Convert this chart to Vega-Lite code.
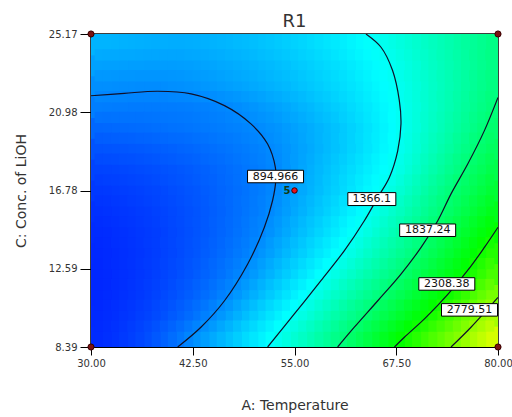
{
"$schema":"https://vega.github.io/schema/vega-lite/v6.json",
"width":407,"height":313,
"autosize":"none",
"padding":{"left":91,"top":34,"right":14,"bottom":70},
"title":{"text":"R1","fontSize":18,"font":"DejaVu Sans","fontWeight":"normal","color":"#333","offset":-2},
"config":{"view":{"stroke":"#000","strokeWidth":1.5},
"axis":{"labelFont":"DejaVu Sans","titleFont":"DejaVu Sans","labelColor":"#333","titleColor":"#333","domainColor":"#000","tickColor":"#000","grid":false,"labelFontSize":10,"titleFontSize":14,"titleFontWeight":"normal","labelOverlap":false,"labelFlush":false}},
"datasets":{
"grid":[
{"A":31,"C":8.95,"R":555},{"A":33,"C":8.95,"R":586},{"A":35,"C":8.95,"R":629},{"A":37,"C":8.95,"R":686},{"A":39,"C":8.95,"R":756},{"A":41,"C":8.95,"R":839},{"A":43,"C":8.95,"R":931},{"A":45,"C":8.95,"R":1020},{"A":47,"C":8.95,"R":1109},{"A":49,"C":8.95,"R":1198},{"A":51,"C":8.95,"R":1287},{"A":53,"C":8.95,"R":1380},{"A":55,"C":8.95,"R":1489},{"A":57,"C":8.95,"R":1598},{"A":59,"C":8.95,"R":1707},{"A":61,"C":8.95,"R":1816},{"A":63,"C":8.95,"R":1943},{"A":65,"C":8.95,"R":2073},{"A":67,"C":8.95,"R":2204},{"A":69,"C":8.95,"R":2335},{"A":71,"C":8.95,"R":2471},{"A":73,"C":8.95,"R":2607},{"A":75,"C":8.95,"R":2743},{"A":77,"C":8.95,"R":2887},{"A":79,"C":8.95,"R":3032},
{"A":31,"C":10.07,"R":548},{"A":33,"C":10.07,"R":572},{"A":35,"C":10.07,"R":604},{"A":37,"C":10.07,"R":646},{"A":39,"C":10.07,"R":697},{"A":41,"C":10.07,"R":757},{"A":43,"C":10.07,"R":825},{"A":45,"C":10.07,"R":905},{"A":47,"C":10.07,"R":999},{"A":49,"C":10.07,"R":1093},{"A":51,"C":10.07,"R":1187},{"A":53,"C":10.07,"R":1281},{"A":55,"C":10.07,"R":1377},{"A":57,"C":10.07,"R":1484},{"A":59,"C":10.07,"R":1591},{"A":61,"C":10.07,"R":1698},{"A":63,"C":10.07,"R":1805},{"A":65,"C":10.07,"R":1920},{"A":67,"C":10.07,"R":2038},{"A":69,"C":10.07,"R":2157},{"A":71,"C":10.07,"R":2275},{"A":73,"C":10.07,"R":2415},{"A":75,"C":10.07,"R":2562},{"A":77,"C":10.07,"R":2709},{"A":79,"C":10.07,"R":2854},
{"A":31,"C":11.19,"R":542},{"A":33,"C":11.19,"R":562},{"A":35,"C":11.19,"R":589},{"A":37,"C":11.19,"R":623},{"A":39,"C":11.19,"R":665},{"A":41,"C":11.19,"R":713},{"A":43,"C":11.19,"R":768},{"A":45,"C":11.19,"R":831},{"A":47,"C":11.19,"R":902},{"A":49,"C":11.19,"R":996},{"A":51,"C":11.19,"R":1090},{"A":53,"C":11.19,"R":1184},{"A":55,"C":11.19,"R":1278},{"A":57,"C":11.19,"R":1374},{"A":59,"C":11.19,"R":1478},{"A":61,"C":11.19,"R":1583},{"A":63,"C":11.19,"R":1688},{"A":65,"C":11.19,"R":1792},{"A":67,"C":11.19,"R":1902},{"A":69,"C":11.19,"R":2016},{"A":71,"C":11.19,"R":2130},{"A":73,"C":11.19,"R":2244},{"A":75,"C":11.19,"R":2377},{"A":77,"C":11.19,"R":2534},{"A":79,"C":11.19,"R":2691},
{"A":31,"C":12.3,"R":542},{"A":33,"C":12.3,"R":559},{"A":35,"C":12.3,"R":583},{"A":37,"C":12.3,"R":612},{"A":39,"C":12.3,"R":647},{"A":41,"C":12.3,"R":688},{"A":43,"C":12.3,"R":735},{"A":45,"C":12.3,"R":788},{"A":47,"C":12.3,"R":847},{"A":49,"C":12.3,"R":918},{"A":51,"C":12.3,"R":1008},{"A":53,"C":12.3,"R":1099},{"A":55,"C":12.3,"R":1189},{"A":57,"C":12.3,"R":1280},{"A":59,"C":12.3,"R":1372},{"A":61,"C":12.3,"R":1475},{"A":63,"C":12.3,"R":1577},{"A":65,"C":12.3,"R":1680},{"A":67,"C":12.3,"R":1782},{"A":69,"C":12.3,"R":1889},{"A":71,"C":12.3,"R":2002},{"A":73,"C":12.3,"R":2116},{"A":75,"C":12.3,"R":2229},{"A":77,"C":12.3,"R":2357},{"A":79,"C":12.3,"R":2519},
{"A":31,"C":13.42,"R":546},{"A":33,"C":13.42,"R":562},{"A":35,"C":13.42,"R":582},{"A":37,"C":13.42,"R":608},{"A":39,"C":13.42,"R":639},{"A":41,"C":13.42,"R":675},{"A":43,"C":13.42,"R":715},{"A":45,"C":13.42,"R":761},{"A":47,"C":13.42,"R":812},{"A":49,"C":13.42,"R":868},{"A":51,"C":13.42,"R":942},{"A":53,"C":13.42,"R":1028},{"A":55,"C":13.42,"R":1113},{"A":57,"C":13.42,"R":1198},{"A":59,"C":13.42,"R":1284},{"A":61,"C":13.42,"R":1371},{"A":63,"C":13.42,"R":1474},{"A":65,"C":13.42,"R":1578},{"A":67,"C":13.42,"R":1681},{"A":69,"C":13.42,"R":1784},{"A":71,"C":13.42,"R":1895},{"A":73,"C":13.42,"R":2013},{"A":75,"C":13.42,"R":2132},{"A":77,"C":13.42,"R":2250},{"A":79,"C":13.42,"R":2384},
{"A":31,"C":14.54,"R":555},{"A":33,"C":14.54,"R":570},{"A":35,"C":14.54,"R":588},{"A":37,"C":14.54,"R":611},{"A":39,"C":14.54,"R":638},{"A":41,"C":14.54,"R":670},{"A":43,"C":14.54,"R":706},{"A":45,"C":14.54,"R":746},{"A":47,"C":14.54,"R":791},{"A":49,"C":14.54,"R":840},{"A":51,"C":14.54,"R":894},{"A":53,"C":14.54,"R":974},{"A":55,"C":14.54,"R":1055},{"A":57,"C":14.54,"R":1137},{"A":59,"C":14.54,"R":1218},{"A":61,"C":14.54,"R":1299},{"A":63,"C":14.54,"R":1385},{"A":65,"C":14.54,"R":1489},{"A":67,"C":14.54,"R":1593},{"A":69,"C":14.54,"R":1697},{"A":71,"C":14.54,"R":1801},{"A":73,"C":14.54,"R":1915},{"A":75,"C":14.54,"R":2034},{"A":77,"C":14.54,"R":2154},{"A":79,"C":14.54,"R":2274},
{"A":31,"C":15.66,"R":575},{"A":33,"C":15.66,"R":588},{"A":35,"C":15.66,"R":604},{"A":37,"C":15.66,"R":624},{"A":39,"C":15.66,"R":648},{"A":41,"C":15.66,"R":676},{"A":43,"C":15.66,"R":707},{"A":45,"C":15.66,"R":743},{"A":47,"C":15.66,"R":782},{"A":49,"C":15.66,"R":825},{"A":51,"C":15.66,"R":871},{"A":53,"C":15.66,"R":935},{"A":55,"C":15.66,"R":1011},{"A":57,"C":15.66,"R":1088},{"A":59,"C":15.66,"R":1164},{"A":61,"C":15.66,"R":1241},{"A":63,"C":15.66,"R":1317},{"A":65,"C":15.66,"R":1406},{"A":67,"C":15.66,"R":1511},{"A":69,"C":15.66,"R":1617},{"A":71,"C":15.66,"R":1722},{"A":73,"C":15.66,"R":1828},{"A":75,"C":15.66,"R":1939},{"A":77,"C":15.66,"R":2051},{"A":79,"C":15.66,"R":2162},
{"A":31,"C":16.78,"R":604},{"A":33,"C":16.78,"R":615},{"A":35,"C":16.78,"R":630},{"A":37,"C":16.78,"R":647},{"A":39,"C":16.78,"R":668},{"A":41,"C":16.78,"R":692},{"A":43,"C":16.78,"R":719},{"A":45,"C":16.78,"R":750},{"A":47,"C":16.78,"R":784},{"A":49,"C":16.78,"R":821},{"A":51,"C":16.78,"R":861},{"A":53,"C":16.78,"R":911},{"A":55,"C":16.78,"R":982},{"A":57,"C":16.78,"R":1054},{"A":59,"C":16.78,"R":1125},{"A":61,"C":16.78,"R":1196},{"A":63,"C":16.78,"R":1268},{"A":65,"C":16.78,"R":1339},{"A":67,"C":16.78,"R":1435},{"A":69,"C":16.78,"R":1543},{"A":71,"C":16.78,"R":1651},{"A":73,"C":16.78,"R":1759},{"A":75,"C":16.78,"R":1865},{"A":77,"C":16.78,"R":1966},{"A":79,"C":16.78,"R":2067},
{"A":31,"C":17.9,"R":644},{"A":33,"C":17.9,"R":653},{"A":35,"C":17.9,"R":665},{"A":37,"C":17.9,"R":680},{"A":39,"C":17.9,"R":698},{"A":41,"C":17.9,"R":719},{"A":43,"C":17.9,"R":742},{"A":45,"C":17.9,"R":768},{"A":47,"C":17.9,"R":797},{"A":49,"C":17.9,"R":829},{"A":51,"C":17.9,"R":863},{"A":53,"C":17.9,"R":905},{"A":55,"C":17.9,"R":971},{"A":57,"C":17.9,"R":1037},{"A":59,"C":17.9,"R":1103},{"A":61,"C":17.9,"R":1169},{"A":63,"C":17.9,"R":1235},{"A":65,"C":17.9,"R":1301},{"A":67,"C":17.9,"R":1369},{"A":69,"C":17.9,"R":1474},{"A":71,"C":17.9,"R":1580},{"A":73,"C":17.9,"R":1685},{"A":75,"C":17.9,"R":1791},{"A":77,"C":17.9,"R":1890},{"A":79,"C":17.9,"R":1985},
{"A":31,"C":19.02,"R":703},{"A":33,"C":19.02,"R":711},{"A":35,"C":19.02,"R":720},{"A":37,"C":19.02,"R":732},{"A":39,"C":19.02,"R":747},{"A":41,"C":19.02,"R":763},{"A":43,"C":19.02,"R":782},{"A":45,"C":19.02,"R":804},{"A":47,"C":19.02,"R":827},{"A":49,"C":19.02,"R":853},{"A":51,"C":19.02,"R":881},{"A":53,"C":19.02,"R":919},{"A":55,"C":19.02,"R":968},{"A":57,"C":19.02,"R":1020},{"A":59,"C":19.02,"R":1077},{"A":61,"C":19.02,"R":1136},{"A":63,"C":19.02,"R":1200},{"A":65,"C":19.02,"R":1268},{"A":67,"C":19.02,"R":1339},{"A":69,"C":19.02,"R":1430},{"A":71,"C":19.02,"R":1529},{"A":73,"C":19.02,"R":1628},{"A":75,"C":19.02,"R":1727},{"A":77,"C":19.02,"R":1826},{"A":79,"C":19.02,"R":1914},
{"A":31,"C":20.14,"R":777},{"A":33,"C":20.14,"R":782},{"A":35,"C":20.14,"R":789},{"A":37,"C":20.14,"R":798},{"A":39,"C":20.14,"R":808},{"A":41,"C":20.14,"R":820},{"A":43,"C":20.14,"R":833},{"A":45,"C":20.14,"R":848},{"A":47,"C":20.14,"R":865},{"A":49,"C":20.14,"R":884},{"A":51,"C":20.14,"R":909},{"A":53,"C":20.14,"R":945},{"A":55,"C":20.14,"R":986},{"A":57,"C":20.14,"R":1031},{"A":59,"C":20.14,"R":1081},{"A":61,"C":20.14,"R":1136},{"A":63,"C":20.14,"R":1195},{"A":65,"C":20.14,"R":1259},{"A":67,"C":20.14,"R":1328},{"A":69,"C":20.14,"R":1410},{"A":71,"C":20.14,"R":1500},{"A":73,"C":20.14,"R":1590},{"A":75,"C":20.14,"R":1680},{"A":77,"C":20.14,"R":1771},{"A":79,"C":20.14,"R":1858},
{"A":31,"C":21.25,"R":858},{"A":33,"C":21.25,"R":853},{"A":35,"C":21.25,"R":850},{"A":37,"C":21.25,"R":849},{"A":39,"C":21.25,"R":851},{"A":41,"C":21.25,"R":856},{"A":43,"C":21.25,"R":865},{"A":45,"C":21.25,"R":878},{"A":47,"C":21.25,"R":899},{"A":49,"C":21.25,"R":928},{"A":51,"C":21.25,"R":960},{"A":53,"C":21.25,"R":995},{"A":55,"C":21.25,"R":1034},{"A":57,"C":21.25,"R":1076},{"A":59,"C":21.25,"R":1122},{"A":61,"C":21.25,"R":1171},{"A":63,"C":21.25,"R":1223},{"A":65,"C":21.25,"R":1278},{"A":67,"C":21.25,"R":1337},{"A":69,"C":21.25,"R":1410},{"A":71,"C":21.25,"R":1491},{"A":73,"C":21.25,"R":1572},{"A":75,"C":21.25,"R":1653},{"A":77,"C":21.25,"R":1734},{"A":79,"C":21.25,"R":1816},
{"A":31,"C":22.37,"R":923},{"A":33,"C":22.37,"R":918},{"A":35,"C":22.37,"R":914},{"A":37,"C":22.37,"R":911},{"A":39,"C":22.37,"R":914},{"A":41,"C":22.37,"R":926},{"A":43,"C":22.37,"R":941},{"A":45,"C":22.37,"R":959},{"A":47,"C":22.37,"R":980},{"A":49,"C":22.37,"R":1003},{"A":51,"C":22.37,"R":1030},{"A":53,"C":22.37,"R":1060},{"A":55,"C":22.37,"R":1093},{"A":57,"C":22.37,"R":1129},{"A":59,"C":22.37,"R":1168},{"A":61,"C":22.37,"R":1210},{"A":63,"C":22.37,"R":1255},{"A":65,"C":22.37,"R":1303},{"A":67,"C":22.37,"R":1353},{"A":69,"C":22.37,"R":1422},{"A":71,"C":22.37,"R":1494},{"A":73,"C":22.37,"R":1567},{"A":75,"C":22.37,"R":1640},{"A":77,"C":22.37,"R":1713},{"A":79,"C":22.37,"R":1786},
{"A":31,"C":23.49,"R":988},{"A":33,"C":23.49,"R":983},{"A":35,"C":23.49,"R":978},{"A":37,"C":23.49,"R":974},{"A":39,"C":23.49,"R":971},{"A":41,"C":23.49,"R":975},{"A":43,"C":23.49,"R":987},{"A":45,"C":23.49,"R":1002},{"A":47,"C":23.49,"R":1020},{"A":49,"C":23.49,"R":1041},{"A":51,"C":23.49,"R":1066},{"A":53,"C":23.49,"R":1093},{"A":55,"C":23.49,"R":1124},{"A":57,"C":23.49,"R":1158},{"A":59,"C":23.49,"R":1195},{"A":61,"C":23.49,"R":1234},{"A":63,"C":23.49,"R":1278},{"A":65,"C":23.49,"R":1324},{"A":67,"C":23.49,"R":1375},{"A":69,"C":23.49,"R":1441},{"A":71,"C":23.49,"R":1507},{"A":73,"C":23.49,"R":1573},{"A":75,"C":23.49,"R":1639},{"A":77,"C":23.49,"R":1705},{"A":79,"C":23.49,"R":1771},
{"A":31,"C":24.61,"R":1058},{"A":33,"C":24.61,"R":1052},{"A":35,"C":24.61,"R":1045},{"A":37,"C":24.61,"R":1039},{"A":39,"C":24.61,"R":1034},{"A":41,"C":24.61,"R":1030},{"A":43,"C":24.61,"R":1039},{"A":45,"C":24.61,"R":1052},{"A":47,"C":24.61,"R":1068},{"A":49,"C":24.61,"R":1087},{"A":51,"C":24.61,"R":1110},{"A":53,"C":24.61,"R":1136},{"A":55,"C":24.61,"R":1165},{"A":57,"C":24.61,"R":1198},{"A":59,"C":24.61,"R":1234},{"A":61,"C":24.61,"R":1273},{"A":63,"C":24.61,"R":1315},{"A":65,"C":24.61,"R":1361},{"A":67,"C":24.61,"R":1418},{"A":69,"C":24.61,"R":1477},{"A":71,"C":24.61,"R":1535},{"A":73,"C":24.61,"R":1594},{"A":75,"C":24.61,"R":1653},{"A":77,"C":24.61,"R":1711},{"A":79,"C":24.61,"R":1770}
],
"mid":[
{"A":32,"C":8.95,"R":570},{"A":34,"C":8.95,"R":607},{"A":36,"C":8.95,"R":657},{"A":38,"C":8.95,"R":721},{"A":40,"C":8.95,"R":797},{"A":42,"C":8.95,"R":885},{"A":44,"C":8.95,"R":975},{"A":46,"C":8.95,"R":1064},{"A":48,"C":8.95,"R":1153},{"A":50,"C":8.95,"R":1242},{"A":52,"C":8.95,"R":1333},{"A":54,"C":8.95,"R":1434},{"A":56,"C":8.95,"R":1543},{"A":58,"C":8.95,"R":1652},{"A":60,"C":8.95,"R":1761},{"A":62,"C":8.95,"R":1879},{"A":64,"C":8.95,"R":2008},{"A":66,"C":8.95,"R":2138},{"A":68,"C":8.95,"R":2269},{"A":70,"C":8.95,"R":2403},{"A":72,"C":8.95,"R":2539},{"A":74,"C":8.95,"R":2675},{"A":76,"C":8.95,"R":2815},{"A":78,"C":8.95,"R":2959},
{"A":32,"C":10.07,"R":560},{"A":34,"C":10.07,"R":588},{"A":36,"C":10.07,"R":625},{"A":38,"C":10.07,"R":671},{"A":40,"C":10.07,"R":727},{"A":42,"C":10.07,"R":791},{"A":44,"C":10.07,"R":865},{"A":46,"C":10.07,"R":952},{"A":48,"C":10.07,"R":1046},{"A":50,"C":10.07,"R":1140},{"A":52,"C":10.07,"R":1234},{"A":54,"C":10.07,"R":1329},{"A":56,"C":10.07,"R":1430},{"A":58,"C":10.07,"R":1537},{"A":60,"C":10.07,"R":1644},{"A":62,"C":10.07,"R":1751},{"A":64,"C":10.07,"R":1862},{"A":66,"C":10.07,"R":1979},{"A":68,"C":10.07,"R":2097},{"A":70,"C":10.07,"R":2216},{"A":72,"C":10.07,"R":2345},{"A":74,"C":10.07,"R":2488},{"A":76,"C":10.07,"R":2635},{"A":78,"C":10.07,"R":2781},
{"A":32,"C":11.19,"R":552},{"A":34,"C":11.19,"R":575},{"A":36,"C":11.19,"R":606},{"A":38,"C":11.19,"R":644},{"A":40,"C":11.19,"R":689},{"A":42,"C":11.19,"R":740},{"A":44,"C":11.19,"R":799},{"A":46,"C":11.19,"R":866},{"A":48,"C":11.19,"R":949},{"A":50,"C":11.19,"R":1043},{"A":52,"C":11.19,"R":1137},{"A":54,"C":11.19,"R":1231},{"A":56,"C":11.19,"R":1326},{"A":58,"C":11.19,"R":1426},{"A":60,"C":11.19,"R":1530},{"A":62,"C":11.19,"R":1635},{"A":64,"C":11.19,"R":1740},{"A":66,"C":11.19,"R":1847},{"A":68,"C":11.19,"R":1959},{"A":70,"C":11.19,"R":2073},{"A":72,"C":11.19,"R":2187},{"A":74,"C":11.19,"R":2310},{"A":76,"C":11.19,"R":2455},{"A":78,"C":11.19,"R":2612},
{"A":32,"C":12.3,"R":550},{"A":34,"C":12.3,"R":571},{"A":36,"C":12.3,"R":597},{"A":38,"C":12.3,"R":629},{"A":40,"C":12.3,"R":667},{"A":42,"C":12.3,"R":711},{"A":44,"C":12.3,"R":761},{"A":46,"C":12.3,"R":817},{"A":48,"C":12.3,"R":882},{"A":50,"C":12.3,"R":963},{"A":52,"C":12.3,"R":1053},{"A":54,"C":12.3,"R":1144},{"A":56,"C":12.3,"R":1234},{"A":58,"C":12.3,"R":1326},{"A":60,"C":12.3,"R":1423},{"A":62,"C":12.3,"R":1526},{"A":64,"C":12.3,"R":1628},{"A":66,"C":12.3,"R":1731},{"A":68,"C":12.3,"R":1835},{"A":70,"C":12.3,"R":1945},{"A":72,"C":12.3,"R":2059},{"A":74,"C":12.3,"R":2172},{"A":76,"C":12.3,"R":2293},{"A":78,"C":12.3,"R":2438},
{"A":32,"C":13.42,"R":554},{"A":34,"C":13.42,"R":572},{"A":36,"C":13.42,"R":595},{"A":38,"C":13.42,"R":623},{"A":40,"C":13.42,"R":657},{"A":42,"C":13.42,"R":695},{"A":44,"C":13.42,"R":738},{"A":46,"C":13.42,"R":786},{"A":48,"C":13.42,"R":840},{"A":50,"C":13.42,"R":905},{"A":52,"C":13.42,"R":985},{"A":54,"C":13.42,"R":1070},{"A":56,"C":13.42,"R":1155},{"A":58,"C":13.42,"R":1241},{"A":60,"C":13.42,"R":1327},{"A":62,"C":13.42,"R":1422},{"A":64,"C":13.42,"R":1526},{"A":66,"C":13.42,"R":1629},{"A":68,"C":13.42,"R":1732},{"A":70,"C":13.42,"R":1839},{"A":72,"C":13.42,"R":1954},{"A":74,"C":13.42,"R":2072},{"A":76,"C":13.42,"R":2191},{"A":78,"C":13.42,"R":2317},
{"A":32,"C":14.54,"R":562},{"A":34,"C":14.54,"R":579},{"A":36,"C":14.54,"R":599},{"A":38,"C":14.54,"R":624},{"A":40,"C":14.54,"R":654},{"A":42,"C":14.54,"R":688},{"A":44,"C":14.54,"R":726},{"A":46,"C":14.54,"R":768},{"A":48,"C":14.54,"R":815},{"A":50,"C":14.54,"R":867},{"A":52,"C":14.54,"R":934},{"A":54,"C":14.54,"R":1014},{"A":56,"C":14.54,"R":1096},{"A":58,"C":14.54,"R":1177},{"A":60,"C":14.54,"R":1258},{"A":62,"C":14.54,"R":1342},{"A":64,"C":14.54,"R":1437},{"A":66,"C":14.54,"R":1541},{"A":68,"C":14.54,"R":1645},{"A":70,"C":14.54,"R":1749},{"A":72,"C":14.54,"R":1858},{"A":74,"C":14.54,"R":1974},{"A":76,"C":14.54,"R":2094},{"A":78,"C":14.54,"R":2214},
{"A":32,"C":15.66,"R":581},{"A":34,"C":15.66,"R":596},{"A":36,"C":15.66,"R":614},{"A":38,"C":15.66,"R":636},{"A":40,"C":15.66,"R":662},{"A":42,"C":15.66,"R":691},{"A":44,"C":15.66,"R":725},{"A":46,"C":15.66,"R":762},{"A":48,"C":15.66,"R":803},{"A":50,"C":15.66,"R":848},{"A":52,"C":15.66,"R":903},{"A":54,"C":15.66,"R":973},{"A":56,"C":15.66,"R":1049},{"A":58,"C":15.66,"R":1126},{"A":60,"C":15.66,"R":1202},{"A":62,"C":15.66,"R":1279},{"A":64,"C":15.66,"R":1361},{"A":66,"C":15.66,"R":1458},{"A":68,"C":15.66,"R":1564},{"A":70,"C":15.66,"R":1669},{"A":72,"C":15.66,"R":1775},{"A":74,"C":15.66,"R":1883},{"A":76,"C":15.66,"R":1995},{"A":78,"C":15.66,"R":2106},
{"A":32,"C":16.78,"R":609},{"A":34,"C":16.78,"R":622},{"A":36,"C":16.78,"R":638},{"A":38,"C":16.78,"R":657},{"A":40,"C":16.78,"R":680},{"A":42,"C":16.78,"R":705},{"A":44,"C":16.78,"R":734},{"A":46,"C":16.78,"R":767},{"A":48,"C":16.78,"R":802},{"A":50,"C":16.78,"R":841},{"A":52,"C":16.78,"R":886},{"A":54,"C":16.78,"R":946},{"A":56,"C":16.78,"R":1018},{"A":58,"C":16.78,"R":1089},{"A":60,"C":16.78,"R":1160},{"A":62,"C":16.78,"R":1232},{"A":64,"C":16.78,"R":1303},{"A":66,"C":16.78,"R":1387},{"A":68,"C":16.78,"R":1489},{"A":70,"C":16.78,"R":1597},{"A":72,"C":16.78,"R":1705},{"A":74,"C":16.78,"R":1812},{"A":76,"C":16.78,"R":1915},{"A":78,"C":16.78,"R":2016},
{"A":32,"C":17.9,"R":648},{"A":34,"C":17.9,"R":659},{"A":36,"C":17.9,"R":672},{"A":38,"C":17.9,"R":689},{"A":40,"C":17.9,"R":708},{"A":42,"C":17.9,"R":730},{"A":44,"C":17.9,"R":755},{"A":46,"C":17.9,"R":782},{"A":48,"C":17.9,"R":813},{"A":50,"C":17.9,"R":846},{"A":52,"C":17.9,"R":884},{"A":54,"C":17.9,"R":938},{"A":56,"C":17.9,"R":1004},{"A":58,"C":17.9,"R":1070},{"A":60,"C":17.9,"R":1136},{"A":62,"C":17.9,"R":1202},{"A":64,"C":17.9,"R":1268},{"A":66,"C":17.9,"R":1335},{"A":68,"C":17.9,"R":1421},{"A":70,"C":17.9,"R":1527},{"A":72,"C":17.9,"R":1632},{"A":74,"C":17.9,"R":1738},{"A":76,"C":17.9,"R":1840},{"A":78,"C":17.9,"R":1937},
{"A":32,"C":19.02,"R":707},{"A":34,"C":19.02,"R":715},{"A":36,"C":19.02,"R":726},{"A":38,"C":19.02,"R":739},{"A":40,"C":19.02,"R":755},{"A":42,"C":19.02,"R":772},{"A":44,"C":19.02,"R":793},{"A":46,"C":19.02,"R":815},{"A":48,"C":19.02,"R":840},{"A":50,"C":19.02,"R":867},{"A":52,"C":19.02,"R":900},{"A":54,"C":19.02,"R":943},{"A":56,"C":19.02,"R":994},{"A":58,"C":19.02,"R":1048},{"A":60,"C":19.02,"R":1106},{"A":62,"C":19.02,"R":1168},{"A":64,"C":19.02,"R":1234},{"A":66,"C":19.02,"R":1303},{"A":68,"C":19.02,"R":1384},{"A":70,"C":19.02,"R":1479},{"A":72,"C":19.02,"R":1578},{"A":74,"C":19.02,"R":1677},{"A":76,"C":19.02,"R":1776},{"A":78,"C":19.02,"R":1870},
{"A":32,"C":20.14,"R":779},{"A":34,"C":20.14,"R":785},{"A":36,"C":20.14,"R":793},{"A":38,"C":20.14,"R":803},{"A":40,"C":20.14,"R":814},{"A":42,"C":20.14,"R":826},{"A":44,"C":20.14,"R":840},{"A":46,"C":20.14,"R":856},{"A":48,"C":20.14,"R":874},{"A":50,"C":20.14,"R":896},{"A":52,"C":20.14,"R":927},{"A":54,"C":20.14,"R":965},{"A":56,"C":20.14,"R":1008},{"A":58,"C":20.14,"R":1056},{"A":60,"C":20.14,"R":1108},{"A":62,"C":20.14,"R":1165},{"A":64,"C":20.14,"R":1227},{"A":66,"C":20.14,"R":1293},{"A":68,"C":20.14,"R":1369},{"A":70,"C":20.14,"R":1455},{"A":72,"C":20.14,"R":1545},{"A":74,"C":20.14,"R":1635},{"A":76,"C":20.14,"R":1725},{"A":78,"C":20.14,"R":1814},
{"A":32,"C":21.25,"R":855},{"A":34,"C":21.25,"R":851},{"A":36,"C":21.25,"R":849},{"A":38,"C":21.25,"R":850},{"A":40,"C":21.25,"R":853},{"A":42,"C":21.25,"R":860},{"A":44,"C":21.25,"R":871},{"A":46,"C":21.25,"R":888},{"A":48,"C":21.25,"R":913},{"A":50,"C":21.25,"R":944},{"A":52,"C":21.25,"R":977},{"A":54,"C":21.25,"R":1014},{"A":56,"C":21.25,"R":1055},{"A":58,"C":21.25,"R":1099},{"A":60,"C":21.25,"R":1146},{"A":62,"C":21.25,"R":1197},{"A":64,"C":21.25,"R":1250},{"A":66,"C":21.25,"R":1307},{"A":68,"C":21.25,"R":1373},{"A":70,"C":21.25,"R":1450},{"A":72,"C":21.25,"R":1531},{"A":74,"C":21.25,"R":1612},{"A":76,"C":21.25,"R":1693},{"A":78,"C":21.25,"R":1775},
{"A":32,"C":22.37,"R":920},{"A":34,"C":22.37,"R":916},{"A":36,"C":22.37,"R":912},{"A":38,"C":22.37,"R":912},{"A":40,"C":22.37,"R":920},{"A":42,"C":22.37,"R":933},{"A":44,"C":22.37,"R":950},{"A":46,"C":22.37,"R":969},{"A":48,"C":22.37,"R":991},{"A":50,"C":22.37,"R":1016},{"A":52,"C":22.37,"R":1045},{"A":54,"C":22.37,"R":1076},{"A":56,"C":22.37,"R":1111},{"A":58,"C":22.37,"R":1148},{"A":60,"C":22.37,"R":1189},{"A":62,"C":22.37,"R":1232},{"A":64,"C":22.37,"R":1279},{"A":66,"C":22.37,"R":1328},{"A":68,"C":22.37,"R":1387},{"A":70,"C":22.37,"R":1458},{"A":72,"C":22.37,"R":1530},{"A":74,"C":22.37,"R":1603},{"A":76,"C":22.37,"R":1676},{"A":78,"C":22.37,"R":1749},
{"A":32,"C":23.49,"R":985},{"A":34,"C":23.49,"R":980},{"A":36,"C":23.49,"R":976},{"A":38,"C":23.49,"R":972},{"A":40,"C":23.49,"R":973},{"A":42,"C":23.49,"R":981},{"A":44,"C":23.49,"R":994},{"A":46,"C":23.49,"R":1011},{"A":48,"C":23.49,"R":1030},{"A":50,"C":23.49,"R":1053},{"A":52,"C":23.49,"R":1079},{"A":54,"C":23.49,"R":1108},{"A":56,"C":23.49,"R":1141},{"A":58,"C":23.49,"R":1176},{"A":60,"C":23.49,"R":1214},{"A":62,"C":23.49,"R":1256},{"A":64,"C":23.49,"R":1301},{"A":66,"C":23.49,"R":1349},{"A":68,"C":23.49,"R":1408},{"A":70,"C":23.49,"R":1474},{"A":72,"C":23.49,"R":1540},{"A":74,"C":23.49,"R":1606},{"A":76,"C":23.49,"R":1672},{"A":78,"C":23.49,"R":1738},
{"A":32,"C":24.61,"R":1055},{"A":34,"C":24.61,"R":1048},{"A":36,"C":24.61,"R":1042},{"A":38,"C":24.61,"R":1036},{"A":40,"C":24.61,"R":1032},{"A":42,"C":24.61,"R":1034},{"A":44,"C":24.61,"R":1045},{"A":46,"C":24.61,"R":1060},{"A":48,"C":24.61,"R":1077},{"A":50,"C":24.61,"R":1098},{"A":52,"C":24.61,"R":1123},{"A":54,"C":24.61,"R":1150},{"A":56,"C":24.61,"R":1181},{"A":58,"C":24.61,"R":1216},{"A":60,"C":24.61,"R":1253},{"A":62,"C":24.61,"R":1294},{"A":64,"C":24.61,"R":1338},{"A":66,"C":24.61,"R":1389},{"A":68,"C":24.61,"R":1447},{"A":70,"C":24.61,"R":1506},{"A":72,"C":24.61,"R":1564},{"A":74,"C":24.61,"R":1623},{"A":76,"C":24.61,"R":1682},{"A":78,"C":24.61,"R":1740}
],
"midr":[
{"A":31,"C":9.51,"R":552},{"A":32,"C":9.51,"R":565},{"A":33,"C":9.51,"R":579},{"A":34,"C":9.51,"R":598},{"A":35,"C":9.51,"R":617},{"A":36,"C":9.51,"R":641},{"A":37,"C":9.51,"R":666},{"A":38,"C":9.51,"R":696},{"A":39,"C":9.51,"R":727},{"A":40,"C":9.51,"R":762},{"A":41,"C":9.51,"R":798},{"A":42,"C":9.51,"R":838},{"A":43,"C":9.51,"R":878},{"A":44,"C":9.51,"R":920},{"A":45,"C":9.51,"R":963},{"A":46,"C":9.51,"R":1008},{"A":47,"C":9.51,"R":1054},{"A":48,"C":9.51,"R":1100},{"A":49,"C":9.51,"R":1146},{"A":50,"C":9.51,"R":1191},{"A":51,"C":9.51,"R":1237},{"A":52,"C":9.51,"R":1284},{"A":53,"C":9.51,"R":1331},{"A":54,"C":9.51,"R":1382},{"A":55,"C":9.51,"R":1433},{"A":56,"C":9.51,"R":1487},{"A":57,"C":9.51,"R":1541},{"A":58,"C":9.51,"R":1595},{"A":59,"C":9.51,"R":1649},{"A":60,"C":9.51,"R":1703},{"A":61,"C":9.51,"R":1757},{"A":62,"C":9.51,"R":1815},{"A":63,"C":9.51,"R":1874},{"A":64,"C":9.51,"R":1935},{"A":65,"C":9.51,"R":1997},{"A":66,"C":9.51,"R":2059},{"A":67,"C":9.51,"R":2121},{"A":68,"C":9.51,"R":2183},{"A":69,"C":9.51,"R":2246},{"A":70,"C":9.51,"R":2310},{"A":71,"C":9.51,"R":2373},{"A":72,"C":9.51,"R":2442},{"A":73,"C":9.51,"R":2511},{"A":74,"C":9.51,"R":2582},{"A":75,"C":9.51,"R":2653},{"A":76,"C":9.51,"R":2725},{"A":77,"C":9.51,"R":2798},{"A":78,"C":9.51,"R":2870},{"A":79,"C":9.51,"R":2943},
{"A":31,"C":10.63,"R":545},{"A":32,"C":10.63,"R":556},{"A":33,"C":10.63,"R":567},{"A":34,"C":10.63,"R":582},{"A":35,"C":10.63,"R":597},{"A":36,"C":10.63,"R":616},{"A":37,"C":10.63,"R":635},{"A":38,"C":10.63,"R":658},{"A":39,"C":10.63,"R":681},{"A":40,"C":10.63,"R":708},{"A":41,"C":10.63,"R":735},{"A":42,"C":10.63,"R":766},{"A":43,"C":10.63,"R":797},{"A":44,"C":10.63,"R":832},{"A":45,"C":10.63,"R":868},{"A":46,"C":10.63,"R":909},{"A":47,"C":10.63,"R":951},{"A":48,"C":10.63,"R":998},{"A":49,"C":10.63,"R":1045},{"A":50,"C":10.63,"R":1092},{"A":51,"C":10.63,"R":1139},{"A":52,"C":10.63,"R":1186},{"A":53,"C":10.63,"R":1233},{"A":54,"C":10.63,"R":1280},{"A":55,"C":10.63,"R":1328},{"A":56,"C":10.63,"R":1378},{"A":57,"C":10.63,"R":1429},{"A":58,"C":10.63,"R":1482},{"A":59,"C":10.63,"R":1535},{"A":60,"C":10.63,"R":1587},{"A":61,"C":10.63,"R":1641},{"A":62,"C":10.63,"R":1693},{"A":63,"C":10.63,"R":1747},{"A":64,"C":10.63,"R":1801},{"A":65,"C":10.63,"R":1856},{"A":66,"C":10.63,"R":1913},{"A":67,"C":10.63,"R":1970},{"A":68,"C":10.63,"R":2028},{"A":69,"C":10.63,"R":2087},{"A":70,"C":10.63,"R":2145},{"A":71,"C":10.63,"R":2203},{"A":72,"C":10.63,"R":2266},{"A":73,"C":10.63,"R":2330},{"A":74,"C":10.63,"R":2399},{"A":75,"C":10.63,"R":2470},{"A":76,"C":10.63,"R":2545},{"A":77,"C":10.63,"R":2622},{"A":78,"C":10.63,"R":2697},{"A":79,"C":10.63,"R":2773},
{"A":31,"C":11.74,"R":542},{"A":32,"C":11.74,"R":551},{"A":33,"C":11.74,"R":561},{"A":34,"C":11.74,"R":573},{"A":35,"C":11.74,"R":586},{"A":36,"C":11.74,"R":602},{"A":37,"C":11.74,"R":618},{"A":38,"C":11.74,"R":637},{"A":39,"C":11.74,"R":656},{"A":40,"C":11.74,"R":678},{"A":41,"C":11.74,"R":701},{"A":42,"C":11.74,"R":726},{"A":43,"C":11.74,"R":752},{"A":44,"C":11.74,"R":780},{"A":45,"C":11.74,"R":810},{"A":46,"C":11.74,"R":842},{"A":47,"C":11.74,"R":875},{"A":48,"C":11.74,"R":916},{"A":49,"C":11.74,"R":957},{"A":50,"C":11.74,"R":1003},{"A":51,"C":11.74,"R":1049},{"A":52,"C":11.74,"R":1095},{"A":53,"C":11.74,"R":1142},{"A":54,"C":11.74,"R":1188},{"A":55,"C":11.74,"R":1234},{"A":56,"C":11.74,"R":1280},{"A":57,"C":11.74,"R":1327},{"A":58,"C":11.74,"R":1376},{"A":59,"C":11.74,"R":1425},{"A":60,"C":11.74,"R":1477},{"A":61,"C":11.74,"R":1529},{"A":62,"C":11.74,"R":1581},{"A":63,"C":11.74,"R":1633},{"A":64,"C":11.74,"R":1684},{"A":65,"C":11.74,"R":1736},{"A":66,"C":11.74,"R":1789},{"A":67,"C":11.74,"R":1842},{"A":68,"C":11.74,"R":1897},{"A":69,"C":11.74,"R":1953},{"A":70,"C":11.74,"R":2009},{"A":71,"C":11.74,"R":2066},{"A":72,"C":11.74,"R":2123},{"A":73,"C":11.74,"R":2180},{"A":74,"C":11.74,"R":2241},{"A":75,"C":11.74,"R":2303},{"A":76,"C":11.74,"R":2374},{"A":77,"C":11.74,"R":2446},{"A":78,"C":11.74,"R":2525},{"A":79,"C":11.74,"R":2605},
{"A":31,"C":12.86,"R":544},{"A":32,"C":12.86,"R":552},{"A":33,"C":12.86,"R":561},{"A":34,"C":12.86,"R":572},{"A":35,"C":12.86,"R":583},{"A":36,"C":12.86,"R":596},{"A":37,"C":12.86,"R":610},{"A":38,"C":12.86,"R":626},{"A":39,"C":12.86,"R":643},{"A":40,"C":12.86,"R":662},{"A":41,"C":12.86,"R":682},{"A":42,"C":12.86,"R":703},{"A":43,"C":12.86,"R":725},{"A":44,"C":12.86,"R":750},{"A":45,"C":12.86,"R":775},{"A":46,"C":12.86,"R":802},{"A":47,"C":12.86,"R":830},{"A":48,"C":12.86,"R":861},{"A":49,"C":12.86,"R":893},{"A":50,"C":12.86,"R":934},{"A":51,"C":12.86,"R":975},{"A":52,"C":12.86,"R":1019},{"A":53,"C":12.86,"R":1064},{"A":54,"C":12.86,"R":1107},{"A":55,"C":12.86,"R":1151},{"A":56,"C":12.86,"R":1195},{"A":57,"C":12.86,"R":1239},{"A":58,"C":12.86,"R":1284},{"A":59,"C":12.86,"R":1328},{"A":60,"C":12.86,"R":1375},{"A":61,"C":12.86,"R":1423},{"A":62,"C":12.86,"R":1474},{"A":63,"C":12.86,"R":1526},{"A":64,"C":12.86,"R":1577},{"A":65,"C":12.86,"R":1629},{"A":66,"C":12.86,"R":1680},{"A":67,"C":12.86,"R":1732},{"A":68,"C":12.86,"R":1784},{"A":69,"C":12.86,"R":1837},{"A":70,"C":12.86,"R":1892},{"A":71,"C":12.86,"R":1949},{"A":72,"C":12.86,"R":2007},{"A":73,"C":12.86,"R":2065},{"A":74,"C":12.86,"R":2122},{"A":75,"C":12.86,"R":2181},{"A":76,"C":12.86,"R":2242},{"A":77,"C":12.86,"R":2304},{"A":78,"C":12.86,"R":2378},{"A":79,"C":12.86,"R":2452},
{"A":31,"C":13.98,"R":551},{"A":32,"C":13.98,"R":558},{"A":33,"C":13.98,"R":566},{"A":34,"C":13.98,"R":576},{"A":35,"C":13.98,"R":585},{"A":36,"C":13.98,"R":597},{"A":37,"C":13.98,"R":610},{"A":38,"C":13.98,"R":624},{"A":39,"C":13.98,"R":639},{"A":40,"C":13.98,"R":656},{"A":41,"C":13.98,"R":673},{"A":42,"C":13.98,"R":692},{"A":43,"C":13.98,"R":711},{"A":44,"C":13.98,"R":732},{"A":45,"C":13.98,"R":754},{"A":46,"C":13.98,"R":777},{"A":47,"C":13.98,"R":802},{"A":48,"C":13.98,"R":828},{"A":49,"C":13.98,"R":854},{"A":50,"C":13.98,"R":886},{"A":51,"C":13.98,"R":918},{"A":52,"C":13.98,"R":960},{"A":53,"C":13.98,"R":1001},{"A":54,"C":13.98,"R":1042},{"A":55,"C":13.98,"R":1084},{"A":56,"C":13.98,"R":1126},{"A":57,"C":13.98,"R":1168},{"A":58,"C":13.98,"R":1209},{"A":59,"C":13.98,"R":1251},{"A":60,"C":13.98,"R":1293},{"A":61,"C":13.98,"R":1335},{"A":62,"C":13.98,"R":1382},{"A":63,"C":13.98,"R":1430},{"A":64,"C":13.98,"R":1482},{"A":65,"C":13.98,"R":1534},{"A":66,"C":13.98,"R":1585},{"A":67,"C":13.98,"R":1637},{"A":68,"C":13.98,"R":1689},{"A":69,"C":13.98,"R":1741},{"A":70,"C":13.98,"R":1794},{"A":71,"C":13.98,"R":1848},{"A":72,"C":13.98,"R":1906},{"A":73,"C":13.98,"R":1964},{"A":74,"C":13.98,"R":2023},{"A":75,"C":13.98,"R":2083},{"A":76,"C":13.98,"R":2143},{"A":77,"C":13.98,"R":2202},{"A":78,"C":13.98,"R":2266},{"A":79,"C":13.98,"R":2329},
{"A":31,"C":15.1,"R":565},{"A":32,"C":15.1,"R":572},{"A":33,"C":15.1,"R":579},{"A":34,"C":15.1,"R":588},{"A":35,"C":15.1,"R":596},{"A":36,"C":15.1,"R":607},{"A":37,"C":15.1,"R":618},{"A":38,"C":15.1,"R":630},{"A":39,"C":15.1,"R":643},{"A":40,"C":15.1,"R":658},{"A":41,"C":15.1,"R":673},{"A":42,"C":15.1,"R":690},{"A":43,"C":15.1,"R":707},{"A":44,"C":15.1,"R":726},{"A":45,"C":15.1,"R":745},{"A":46,"C":15.1,"R":765},{"A":47,"C":15.1,"R":787},{"A":48,"C":15.1,"R":809},{"A":49,"C":15.1,"R":833},{"A":50,"C":15.1,"R":858},{"A":51,"C":15.1,"R":883},{"A":52,"C":15.1,"R":919},{"A":53,"C":15.1,"R":955},{"A":54,"C":15.1,"R":994},{"A":55,"C":15.1,"R":1033},{"A":56,"C":15.1,"R":1073},{"A":57,"C":15.1,"R":1113},{"A":58,"C":15.1,"R":1152},{"A":59,"C":15.1,"R":1191},{"A":60,"C":15.1,"R":1230},{"A":61,"C":15.1,"R":1270},{"A":62,"C":15.1,"R":1311},{"A":63,"C":15.1,"R":1351},{"A":64,"C":15.1,"R":1399},{"A":65,"C":15.1,"R":1448},{"A":66,"C":15.1,"R":1500},{"A":67,"C":15.1,"R":1552},{"A":68,"C":15.1,"R":1605},{"A":69,"C":15.1,"R":1657},{"A":70,"C":15.1,"R":1709},{"A":71,"C":15.1,"R":1762},{"A":72,"C":15.1,"R":1817},{"A":73,"C":15.1,"R":1872},{"A":74,"C":15.1,"R":1929},{"A":75,"C":15.1,"R":1987},{"A":76,"C":15.1,"R":2045},{"A":77,"C":15.1,"R":2103},{"A":78,"C":15.1,"R":2160},{"A":79,"C":15.1,"R":2218},
{"A":31,"C":16.22,"R":590},{"A":32,"C":16.22,"R":595},{"A":33,"C":16.22,"R":602},{"A":34,"C":16.22,"R":609},{"A":35,"C":16.22,"R":617},{"A":36,"C":16.22,"R":626},{"A":37,"C":16.22,"R":636},{"A":38,"C":16.22,"R":647},{"A":39,"C":16.22,"R":658},{"A":40,"C":16.22,"R":671},{"A":41,"C":16.22,"R":684},{"A":42,"C":16.22,"R":698},{"A":43,"C":16.22,"R":713},{"A":44,"C":16.22,"R":730},{"A":45,"C":16.22,"R":747},{"A":46,"C":16.22,"R":765},{"A":47,"C":16.22,"R":783},{"A":48,"C":16.22,"R":803},{"A":49,"C":16.22,"R":823},{"A":50,"C":16.22,"R":845},{"A":51,"C":16.22,"R":866},{"A":52,"C":16.22,"R":895},{"A":53,"C":16.22,"R":923},{"A":54,"C":16.22,"R":960},{"A":55,"C":16.22,"R":997},{"A":56,"C":16.22,"R":1034},{"A":57,"C":16.22,"R":1071},{"A":58,"C":16.22,"R":1108},{"A":59,"C":16.22,"R":1145},{"A":60,"C":16.22,"R":1181},{"A":61,"C":16.22,"R":1219},{"A":62,"C":16.22,"R":1256},{"A":63,"C":16.22,"R":1293},{"A":64,"C":16.22,"R":1332},{"A":65,"C":16.22,"R":1373},{"A":66,"C":16.22,"R":1423},{"A":67,"C":16.22,"R":1473},{"A":68,"C":16.22,"R":1527},{"A":69,"C":16.22,"R":1580},{"A":70,"C":16.22,"R":1633},{"A":71,"C":16.22,"R":1687},{"A":72,"C":16.22,"R":1740},{"A":73,"C":16.22,"R":1794},{"A":74,"C":16.22,"R":1848},{"A":75,"C":16.22,"R":1902},{"A":76,"C":16.22,"R":1955},{"A":77,"C":16.22,"R":2009},{"A":78,"C":16.22,"R":2061},{"A":79,"C":16.22,"R":2115},
{"A":31,"C":17.34,"R":624},{"A":32,"C":17.34,"R":629},{"A":33,"C":17.34,"R":634},{"A":34,"C":17.34,"R":641},{"A":35,"C":17.34,"R":648},{"A":36,"C":17.34,"R":655},{"A":37,"C":17.34,"R":664},{"A":38,"C":17.34,"R":673},{"A":39,"C":17.34,"R":683},{"A":40,"C":17.34,"R":694},{"A":41,"C":17.34,"R":706},{"A":42,"C":17.34,"R":718},{"A":43,"C":17.34,"R":731},{"A":44,"C":17.34,"R":745},{"A":45,"C":17.34,"R":759},{"A":46,"C":17.34,"R":775},{"A":47,"C":17.34,"R":791},{"A":48,"C":17.34,"R":808},{"A":49,"C":17.34,"R":825},{"A":50,"C":17.34,"R":844},{"A":51,"C":17.34,"R":862},{"A":52,"C":17.34,"R":885},{"A":53,"C":17.34,"R":908},{"A":54,"C":17.34,"R":942},{"A":55,"C":17.34,"R":977},{"A":56,"C":17.34,"R":1011},{"A":57,"C":17.34,"R":1046},{"A":58,"C":17.34,"R":1080},{"A":59,"C":17.34,"R":1114},{"A":60,"C":17.34,"R":1148},{"A":61,"C":17.34,"R":1183},{"A":62,"C":17.34,"R":1217},{"A":63,"C":17.34,"R":1252},{"A":64,"C":17.34,"R":1286},{"A":65,"C":17.34,"R":1320},{"A":66,"C":17.34,"R":1361},{"A":67,"C":17.34,"R":1402},{"A":68,"C":17.34,"R":1455},{"A":69,"C":17.34,"R":1509},{"A":70,"C":17.34,"R":1562},{"A":71,"C":17.34,"R":1616},{"A":72,"C":17.34,"R":1669},{"A":73,"C":17.34,"R":1722},{"A":74,"C":17.34,"R":1775},{"A":75,"C":17.34,"R":1828},{"A":76,"C":17.34,"R":1878},{"A":77,"C":17.34,"R":1928},{"A":78,"C":17.34,"R":1977},{"A":79,"C":17.34,"R":2026},
{"A":31,"C":18.46,"R":674},{"A":32,"C":18.46,"R":678},{"A":33,"C":18.46,"R":682},{"A":34,"C":18.46,"R":687},{"A":35,"C":18.46,"R":693},{"A":36,"C":18.46,"R":699},{"A":37,"C":18.46,"R":706},{"A":38,"C":18.46,"R":714},{"A":39,"C":18.46,"R":723},{"A":40,"C":18.46,"R":732},{"A":41,"C":18.46,"R":741},{"A":42,"C":18.46,"R":751},{"A":43,"C":18.46,"R":762},{"A":44,"C":18.46,"R":774},{"A":45,"C":18.46,"R":786},{"A":46,"C":18.46,"R":799},{"A":47,"C":18.46,"R":812},{"A":48,"C":18.46,"R":827},{"A":49,"C":18.46,"R":841},{"A":50,"C":18.46,"R":857},{"A":51,"C":18.46,"R":872},{"A":52,"C":18.46,"R":892},{"A":53,"C":18.46,"R":912},{"A":54,"C":18.46,"R":941},{"A":55,"C":18.46,"R":970},{"A":56,"C":18.46,"R":999},{"A":57,"C":18.46,"R":1029},{"A":58,"C":18.46,"R":1059},{"A":59,"C":18.46,"R":1090},{"A":60,"C":18.46,"R":1121},{"A":61,"C":18.46,"R":1153},{"A":62,"C":18.46,"R":1185},{"A":63,"C":18.46,"R":1218},{"A":64,"C":18.46,"R":1251},{"A":65,"C":18.46,"R":1285},{"A":66,"C":18.46,"R":1319},{"A":67,"C":18.46,"R":1354},{"A":68,"C":18.46,"R":1403},{"A":69,"C":18.46,"R":1452},{"A":70,"C":18.46,"R":1503},{"A":71,"C":18.46,"R":1555},{"A":72,"C":18.46,"R":1605},{"A":73,"C":18.46,"R":1657},{"A":74,"C":18.46,"R":1708},{"A":75,"C":18.46,"R":1759},{"A":76,"C":18.46,"R":1808},{"A":77,"C":18.46,"R":1858},{"A":78,"C":18.46,"R":1904},{"A":79,"C":18.46,"R":1950},
{"A":31,"C":19.58,"R":740},{"A":32,"C":19.58,"R":743},{"A":33,"C":19.58,"R":747},{"A":34,"C":19.58,"R":750},{"A":35,"C":19.58,"R":755},{"A":36,"C":19.58,"R":760},{"A":37,"C":19.58,"R":765},{"A":38,"C":19.58,"R":771},{"A":39,"C":19.58,"R":778},{"A":40,"C":19.58,"R":785},{"A":41,"C":19.58,"R":792},{"A":42,"C":19.58,"R":799},{"A":43,"C":19.58,"R":808},{"A":44,"C":19.58,"R":817},{"A":45,"C":19.58,"R":826},{"A":46,"C":19.58,"R":836},{"A":47,"C":19.58,"R":846},{"A":48,"C":19.58,"R":857},{"A":49,"C":19.58,"R":869},{"A":50,"C":19.58,"R":882},{"A":51,"C":19.58,"R":895},{"A":52,"C":19.58,"R":914},{"A":53,"C":19.58,"R":932},{"A":54,"C":19.58,"R":954},{"A":55,"C":19.58,"R":977},{"A":56,"C":19.58,"R":1001},{"A":57,"C":19.58,"R":1026},{"A":58,"C":19.58,"R":1052},{"A":59,"C":19.58,"R":1079},{"A":60,"C":19.58,"R":1107},{"A":61,"C":19.58,"R":1136},{"A":62,"C":19.58,"R":1167},{"A":63,"C":19.58,"R":1198},{"A":64,"C":19.58,"R":1231},{"A":65,"C":19.58,"R":1264},{"A":66,"C":19.58,"R":1298},{"A":67,"C":19.58,"R":1334},{"A":68,"C":19.58,"R":1377},{"A":69,"C":19.58,"R":1420},{"A":70,"C":19.58,"R":1467},{"A":71,"C":19.58,"R":1515},{"A":72,"C":19.58,"R":1562},{"A":73,"C":19.58,"R":1609},{"A":74,"C":19.58,"R":1656},{"A":75,"C":19.58,"R":1704},{"A":76,"C":19.58,"R":1751},{"A":77,"C":19.58,"R":1799},{"A":78,"C":19.58,"R":1842},{"A":79,"C":19.58,"R":1886},
{"A":31,"C":20.7,"R":818},{"A":32,"C":20.7,"R":817},{"A":33,"C":20.7,"R":818},{"A":34,"C":20.7,"R":818},{"A":35,"C":20.7,"R":820},{"A":36,"C":20.7,"R":821},{"A":37,"C":20.7,"R":824},{"A":38,"C":20.7,"R":827},{"A":39,"C":20.7,"R":830},{"A":40,"C":20.7,"R":834},{"A":41,"C":20.7,"R":838},{"A":42,"C":20.7,"R":843},{"A":43,"C":20.7,"R":849},{"A":44,"C":20.7,"R":856},{"A":45,"C":20.7,"R":863},{"A":46,"C":20.7,"R":872},{"A":47,"C":20.7,"R":882},{"A":48,"C":20.7,"R":894},{"A":49,"C":20.7,"R":906},{"A":50,"C":20.7,"R":920},{"A":51,"C":20.7,"R":935},{"A":52,"C":20.7,"R":952},{"A":53,"C":20.7,"R":970},{"A":54,"C":20.7,"R":990},{"A":55,"C":20.7,"R":1010},{"A":56,"C":20.7,"R":1032},{"A":57,"C":20.7,"R":1054},{"A":58,"C":20.7,"R":1078},{"A":59,"C":20.7,"R":1102},{"A":60,"C":20.7,"R":1127},{"A":61,"C":20.7,"R":1154},{"A":62,"C":20.7,"R":1181},{"A":63,"C":20.7,"R":1209},{"A":64,"C":20.7,"R":1239},{"A":65,"C":20.7,"R":1269},{"A":66,"C":20.7,"R":1300},{"A":67,"C":20.7,"R":1333},{"A":68,"C":20.7,"R":1371},{"A":69,"C":20.7,"R":1410},{"A":70,"C":20.7,"R":1453},{"A":71,"C":20.7,"R":1496},{"A":72,"C":20.7,"R":1538},{"A":73,"C":20.7,"R":1581},{"A":74,"C":20.7,"R":1624},{"A":75,"C":20.7,"R":1667},{"A":76,"C":20.7,"R":1709},{"A":77,"C":20.7,"R":1753},{"A":78,"C":20.7,"R":1795},{"A":79,"C":20.7,"R":1837},
{"A":31,"C":21.81,"R":891},{"A":32,"C":21.81,"R":888},{"A":33,"C":21.81,"R":886},{"A":34,"C":21.81,"R":884},{"A":35,"C":21.81,"R":882},{"A":36,"C":21.81,"R":881},{"A":37,"C":21.81,"R":880},{"A":38,"C":21.81,"R":881},{"A":39,"C":21.81,"R":883},{"A":40,"C":21.81,"R":887},{"A":41,"C":21.81,"R":891},{"A":42,"C":21.81,"R":897},{"A":43,"C":21.81,"R":903},{"A":44,"C":21.81,"R":911},{"A":45,"C":21.81,"R":919},{"A":46,"C":21.81,"R":929},{"A":47,"C":21.81,"R":940},{"A":48,"C":21.81,"R":952},{"A":49,"C":21.81,"R":966},{"A":50,"C":21.81,"R":980},{"A":51,"C":21.81,"R":995},{"A":52,"C":21.81,"R":1011},{"A":53,"C":21.81,"R":1028},{"A":54,"C":21.81,"R":1045},{"A":55,"C":21.81,"R":1064},{"A":56,"C":21.81,"R":1083},{"A":57,"C":21.81,"R":1103},{"A":58,"C":21.81,"R":1124},{"A":59,"C":21.81,"R":1145},{"A":60,"C":21.81,"R":1168},{"A":61,"C":21.81,"R":1191},{"A":62,"C":21.81,"R":1215},{"A":63,"C":21.81,"R":1239},{"A":64,"C":21.81,"R":1265},{"A":65,"C":21.81,"R":1291},{"A":66,"C":21.81,"R":1318},{"A":67,"C":21.81,"R":1345},{"A":68,"C":21.81,"R":1380},{"A":69,"C":21.81,"R":1416},{"A":70,"C":21.81,"R":1454},{"A":71,"C":21.81,"R":1493},{"A":72,"C":21.81,"R":1531},{"A":73,"C":21.81,"R":1570},{"A":74,"C":21.81,"R":1608},{"A":75,"C":21.81,"R":1647},{"A":76,"C":21.81,"R":1685},{"A":77,"C":21.81,"R":1724},{"A":78,"C":21.81,"R":1762},{"A":79,"C":21.81,"R":1801},
{"A":31,"C":22.93,"R":956},{"A":32,"C":22.93,"R":953},{"A":33,"C":22.93,"R":951},{"A":34,"C":22.93,"R":948},{"A":35,"C":22.93,"R":946},{"A":36,"C":22.93,"R":944},{"A":37,"C":22.93,"R":943},{"A":38,"C":22.93,"R":942},{"A":39,"C":22.93,"R":943},{"A":40,"C":22.93,"R":947},{"A":41,"C":22.93,"R":951},{"A":42,"C":22.93,"R":957},{"A":43,"C":22.93,"R":964},{"A":44,"C":22.93,"R":972},{"A":45,"C":22.93,"R":981},{"A":46,"C":22.93,"R":990},{"A":47,"C":22.93,"R":1000},{"A":48,"C":22.93,"R":1011},{"A":49,"C":22.93,"R":1022},{"A":50,"C":22.93,"R":1035},{"A":51,"C":22.93,"R":1048},{"A":52,"C":22.93,"R":1062},{"A":53,"C":22.93,"R":1077},{"A":54,"C":22.93,"R":1092},{"A":55,"C":22.93,"R":1109},{"A":56,"C":22.93,"R":1126},{"A":57,"C":22.93,"R":1144},{"A":58,"C":22.93,"R":1162},{"A":59,"C":22.93,"R":1182},{"A":60,"C":22.93,"R":1202},{"A":61,"C":22.93,"R":1222},{"A":62,"C":22.93,"R":1244},{"A":63,"C":22.93,"R":1267},{"A":64,"C":22.93,"R":1290},{"A":65,"C":22.93,"R":1314},{"A":66,"C":22.93,"R":1339},{"A":67,"C":22.93,"R":1364},{"A":68,"C":22.93,"R":1398},{"A":69,"C":22.93,"R":1432},{"A":70,"C":22.93,"R":1466},{"A":71,"C":22.93,"R":1501},{"A":72,"C":22.93,"R":1535},{"A":73,"C":22.93,"R":1570},{"A":74,"C":22.93,"R":1605},{"A":75,"C":22.93,"R":1640},{"A":76,"C":22.93,"R":1674},{"A":77,"C":22.93,"R":1709},{"A":78,"C":22.93,"R":1744},{"A":79,"C":22.93,"R":1779},
{"A":31,"C":24.05,"R":1023},{"A":32,"C":24.05,"R":1020},{"A":33,"C":24.05,"R":1018},{"A":34,"C":24.05,"R":1014},{"A":35,"C":24.05,"R":1012},{"A":36,"C":24.05,"R":1009},{"A":37,"C":24.05,"R":1007},{"A":38,"C":24.05,"R":1004},{"A":39,"C":24.05,"R":1003},{"A":40,"C":24.05,"R":1003},{"A":41,"C":24.05,"R":1003},{"A":42,"C":24.05,"R":1008},{"A":43,"C":24.05,"R":1013},{"A":44,"C":24.05,"R":1020},{"A":45,"C":24.05,"R":1027},{"A":46,"C":24.05,"R":1036},{"A":47,"C":24.05,"R":1044},{"A":48,"C":24.05,"R":1054},{"A":49,"C":24.05,"R":1064},{"A":50,"C":24.05,"R":1076},{"A":51,"C":24.05,"R":1088},{"A":52,"C":24.05,"R":1101},{"A":53,"C":24.05,"R":1115},{"A":54,"C":24.05,"R":1129},{"A":55,"C":24.05,"R":1145},{"A":56,"C":24.05,"R":1161},{"A":57,"C":24.05,"R":1178},{"A":58,"C":24.05,"R":1196},{"A":59,"C":24.05,"R":1215},{"A":60,"C":24.05,"R":1234},{"A":61,"C":24.05,"R":1254},{"A":62,"C":24.05,"R":1275},{"A":63,"C":24.05,"R":1297},{"A":64,"C":24.05,"R":1320},{"A":65,"C":24.05,"R":1343},{"A":66,"C":24.05,"R":1369},{"A":67,"C":24.05,"R":1397},{"A":68,"C":24.05,"R":1428},{"A":69,"C":24.05,"R":1459},{"A":70,"C":24.05,"R":1490},{"A":71,"C":24.05,"R":1521},{"A":72,"C":24.05,"R":1552},{"A":73,"C":24.05,"R":1584},{"A":74,"C":24.05,"R":1615},{"A":75,"C":24.05,"R":1646},{"A":76,"C":24.05,"R":1677},{"A":77,"C":24.05,"R":1708},{"A":78,"C":24.05,"R":1739},{"A":79,"C":24.05,"R":1771}
],
"contours":[
{"lv":"894.966","o":0,"A":30,"C":21.86},{"lv":"894.966","o":1,"A":34.1,"C":21.99},{"lv":"894.966","o":2,"A":38.2,"C":22.1},{"lv":"894.966","o":3,"A":42.3,"C":21.96},{"lv":"894.966","o":4,"A":46.4,"C":21.33},{"lv":"894.966","o":5,"A":49.65,"C":20.35},{"lv":"894.966","o":6,"A":51.7,"C":19.27},{"lv":"894.966","o":7,"A":52.65,"C":18.02},{"lv":"894.966","o":8,"A":52.7,"C":17.31},{"lv":"894.966","o":9,"A":52.3,"C":16.23},{"lv":"894.966","o":10,"A":51.3,"C":14.81},{"lv":"894.966","o":11,"A":49.25,"C":12.84},{"lv":"894.966","o":12,"A":46.4,"C":10.87},{"lv":"894.966","o":13,"A":43.5,"C":9.45},{"lv":"894.966","o":14,"A":40.65,"C":8.39},
{"lv":"1366.1","o":0,"A":63.78,"C":25.17},{"lv":"1366.1","o":1,"A":65.63,"C":24.46},{"lv":"1366.1","o":2,"A":67.05,"C":23.21},{"lv":"1366.1","o":3,"A":67.88,"C":21.6},{"lv":"1366.1","o":4,"A":68.08,"C":20.35},{"lv":"1366.1","o":5,"A":67.68,"C":18.91},{"lv":"1366.1","o":6,"A":66.65,"C":17.48},{"lv":"1366.1","o":7,"A":65.23,"C":16.41},{"lv":"1366.1","o":8,"A":63.58,"C":15.16},{"lv":"1366.1","o":9,"A":61.13,"C":13.56},{"lv":"1366.1","o":10,"A":58.25,"C":11.95},{"lv":"1366.1","o":11,"A":54.98,"C":10.16},{"lv":"1366.1","o":12,"A":51.7,"C":8.39},
{"lv":"1837.24","o":0,"A":80,"C":21.77},{"lv":"1837.24","o":1,"A":78.33,"C":19.99},{"lv":"1837.24","o":2,"A":76.28,"C":18.2},{"lv":"1837.24","o":3,"A":74.23,"C":16.6},{"lv":"1837.24","o":4,"A":72.6,"C":15.16},{"lv":"1837.24","o":5,"A":70.55,"C":13.73},{"lv":"1837.24","o":6,"A":68.08,"C":12.3},{"lv":"1837.24","o":7,"A":65.23,"C":10.87},{"lv":"1837.24","o":8,"A":62.35,"C":9.45},{"lv":"1837.24","o":9,"A":60.3,"C":8.39},
{"lv":"2308.38","o":0,"A":80,"C":14.81},{"lv":"2308.38","o":1,"A":78.33,"C":13.73},{"lv":"2308.38","o":2,"A":76.56,"C":12.66},{"lv":"2308.38","o":3,"A":73.86,"C":11.23},{"lv":"2308.38","o":4,"A":71.15,"C":9.98},{"lv":"2308.38","o":5,"A":68.5,"C":8.91},{"lv":"2308.38","o":6,"A":67.28,"C":8.39},
{"lv":"2779.51","o":0,"A":80,"C":11.05},{"lv":"2779.51","o":1,"A":76.68,"C":9.45},{"lv":"2779.51","o":2,"A":74.23,"C":8.39}
],
"labels":[
{"t":"894.966","A":52.67,"C":17.53},{"t":"1366.1","A":64.5,"C":16.32},{"t":"1837.24","A":71.36,"C":14.65},{"t":"2308.38","A":73.71,"C":11.77},{"t":"2779.51","A":76.5,"C":10.38}
],
"center":[{"A":55,"C":16.78,"n":"5"}],
"corners":[{"A":30,"C":8.39},{"A":80,"C":8.39},{"A":30,"C":25.17},{"A":80,"C":25.17}]
},
"encoding":{
"x":{"field":"A","type":"quantitative","scale":{"domain":[30,80],"nice":false,"zero":false},
"axis":{"values":[30,42.5,55,67.5,80],"format":".2f","tickSize":8,"labelPadding":3,"title":"A: Temperature","titlePadding":30}},
"y":{"field":"C","type":"quantitative","scale":{"domain":[8.39,25.17],"nice":false,"zero":false},
"axis":{"values":[8.39,12.59,16.78,20.98,25.17],"format":".2f","tickSize":11,"labelPadding":3,"title":"C: Conc. of LiOH","titlePadding":20}}
},
"layer":[
{"data":{"name":"grid"},
"mark":{"type":"point","shape":"M-1,-1.29L1,-1.29L1,1.29L-1,1.29Z","size":289,"filled":true,"opacity":1,"strokeWidth":0,"clip":true},
"encoding":{"color":{"field":"R","type":"quantitative","legend":null,
"scale":{"domain":[400,1330,2260,3190],"range":["#0000ff","#00ffff","#00ff00","#ffff00"],"interpolate":"rgb","clamp":true}}}},
{"data":{"name":"mid"},
"mark":{"type":"point","shape":"M-1,-2.42L1,-2.42L1,2.42L-1,2.42Z","size":81,"filled":true,"opacity":1,"strokeWidth":0,"clip":true},
"encoding":{"color":{"field":"R","type":"quantitative","legend":null}}},
{"data":{"name":"midr"},
"mark":{"type":"point","shape":"M-1,-1.25L1,-1.25L1,1.25L-1,1.25Z","size":81,"filled":true,"opacity":1,"strokeWidth":0,"clip":true},
"encoding":{"color":{"field":"R","type":"quantitative","legend":null}}},
{"data":{"name":"contours"},
"mark":{"type":"line","color":"#101028","strokeWidth":1.2,"interpolate":"catmull-rom","clip":true},
"encoding":{"detail":{"field":"lv"},"order":{"field":"o","type":"quantitative"}}},
{"data":{"name":"labels"},"transform":[{"filter":"datum.t != '1366.1'"}],
"mark":{"type":"point","shape":"M-1,-0.223L1,-0.223L1,0.223L-1,0.223Z","size":3136,"filled":true,"fill":"#ffffff","stroke":"#000000","strokeWidth":1,"opacity":1,"clip":true}},
{"data":{"name":"labels"},"transform":[{"filter":"datum.t == '1366.1'"}],
"mark":{"type":"point","shape":"M-1,-0.27L1,-0.27L1,0.27L-1,0.27Z","size":2304,"filled":true,"fill":"#ffffff","stroke":"#000000","strokeWidth":1,"opacity":1,"clip":true}},
{"data":{"name":"labels"},
"mark":{"type":"text","font":"DejaVu Sans","fontSize":11,"color":"#111","clip":true,"align":"center","baseline":"middle"},
"encoding":{"text":{"field":"t"}}},
{"data":{"name":"center"},
"mark":{"type":"point","shape":"circle","size":30,"filled":true,"fill":"#e8101c","stroke":"#3a0000","strokeWidth":1,"opacity":1}},
{"data":{"name":"center"},
"mark":{"type":"text","font":"DejaVu Sans","fontSize":10,"fontWeight":"bold","color":"#123a12","align":"right","baseline":"middle","dx":-4},
"encoding":{"text":{"field":"n"}}},
{"data":{"name":"corners"},
"mark":{"type":"point","shape":"circle","size":38,"filled":true,"fill":"#7a1212","stroke":"#3a0000","strokeWidth":1,"opacity":1}}
]
}
